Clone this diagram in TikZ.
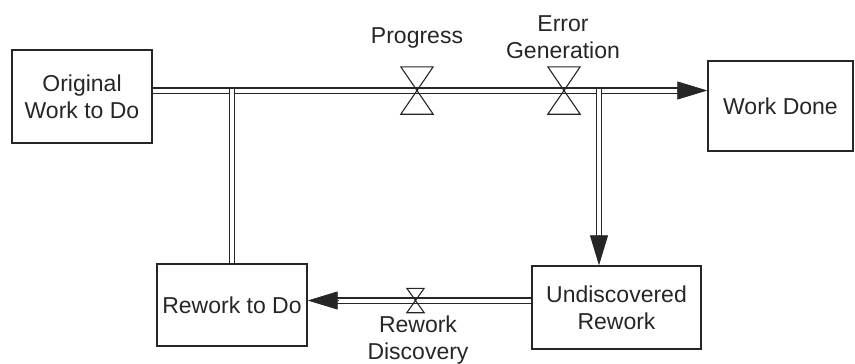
\documentclass[tikz,border=0pt]{standalone}
\usepackage{fontspec}
\setmainfont{Liberation Sans}
\usetikzlibrary{arrows.meta,calc}
\definecolor{ink}{HTML}{262626}
\begin{document}
\begin{tikzpicture}[x=1pt,y=-1pt,
  box/.style={draw=ink, line width=1.4pt, inner sep=0pt, align=center,
    text=ink, font=\fontsize{23}{27}\selectfont},
  lbl/.style={inner sep=0pt, align=center, text=ink,
    font=\fontsize{23}{27}\selectfont},
  pipe/.style={draw=ink, line width=1.1pt, double=white, double distance=4pt},
  tip/.style={draw=ink, fill=ink, line width=0.8pt,
    -{Triangle[length=30pt,width=18pt]}},
  bigvalve/.style={inner sep=0pt, minimum width=32pt, minimum height=47pt},
  smallvalve/.style={inner sep=0pt, minimum width=17pt, minimum height=24pt},
  valveline/.style={draw=ink, line width=1.1pt, line join=miter}]
\useasboundingbox (0,0) rectangle (855,364);

% stocks
\node[box, minimum width=140pt, minimum height=93pt] (orig) at (82,96.5) {Original\\Work to Do};
\node[box, minimum width=145pt, minimum height=90pt] (done) at (780.5,106) {Work Done};
\node[box, minimum width=150pt, minimum height=82pt] (rework) at (232,305) {Rework to Do};
\node[box, minimum width=169pt, minimum height=83pt] (undisc) at (616.5,307.5) {Undiscovered\\Rework};

% flow valves
\node[bigvalve] (prog) at (417,90.5) {};
\node[bigvalve] (err) at (564,90.5) {};
\node[smallvalve] (disc) at (415.5,300.5) {};

% valve labels
\node[lbl] (progl) at (417,38) {Progress};
\node[lbl] (errl) at (563,37) {Error\\Generation};
\node[lbl] (discl) at (418,340.5) {Rework\\Discovery};

% pipe junctions
\coordinate (jl) at (rework.north |- prog);
\coordinate (jr) at (599,90.5);

% main flow: original work to work done
\draw[pipe] (orig.east |- prog) -- ($(done.west |- prog)+(-29,0)$);
\draw[tip] ($(done.west |- prog)+(-30,0)$) -- (done.west |- prog);

% rework to do feeds back into the main flow
\draw[pipe] ($(jl)+(0,-2)$) -- (rework.north);

% error generation branch down to undiscovered rework
\draw[pipe] ($(jr)+(0,-2)$) -- ($(jr |- undisc.north)+(0,-29)$);
\draw[tip] ($(jr |- undisc.north)+(0,-30)$) -- (jr |- undisc.north);

% rework discovery
\draw[pipe] (undisc.west |- disc) -- ($(rework.east |- disc)+(29,0)$);
\draw[tip] ($(rework.east |- disc)+(30,0)$) -- (rework.east |- disc);

% valve symbols
\foreach \v in {prog,err,disc}
  \draw[valveline] (\v.north west) -- (\v.north east) -- (\v.south west) -- (\v.south east) -- cycle;
\end{tikzpicture}
\end{document}
